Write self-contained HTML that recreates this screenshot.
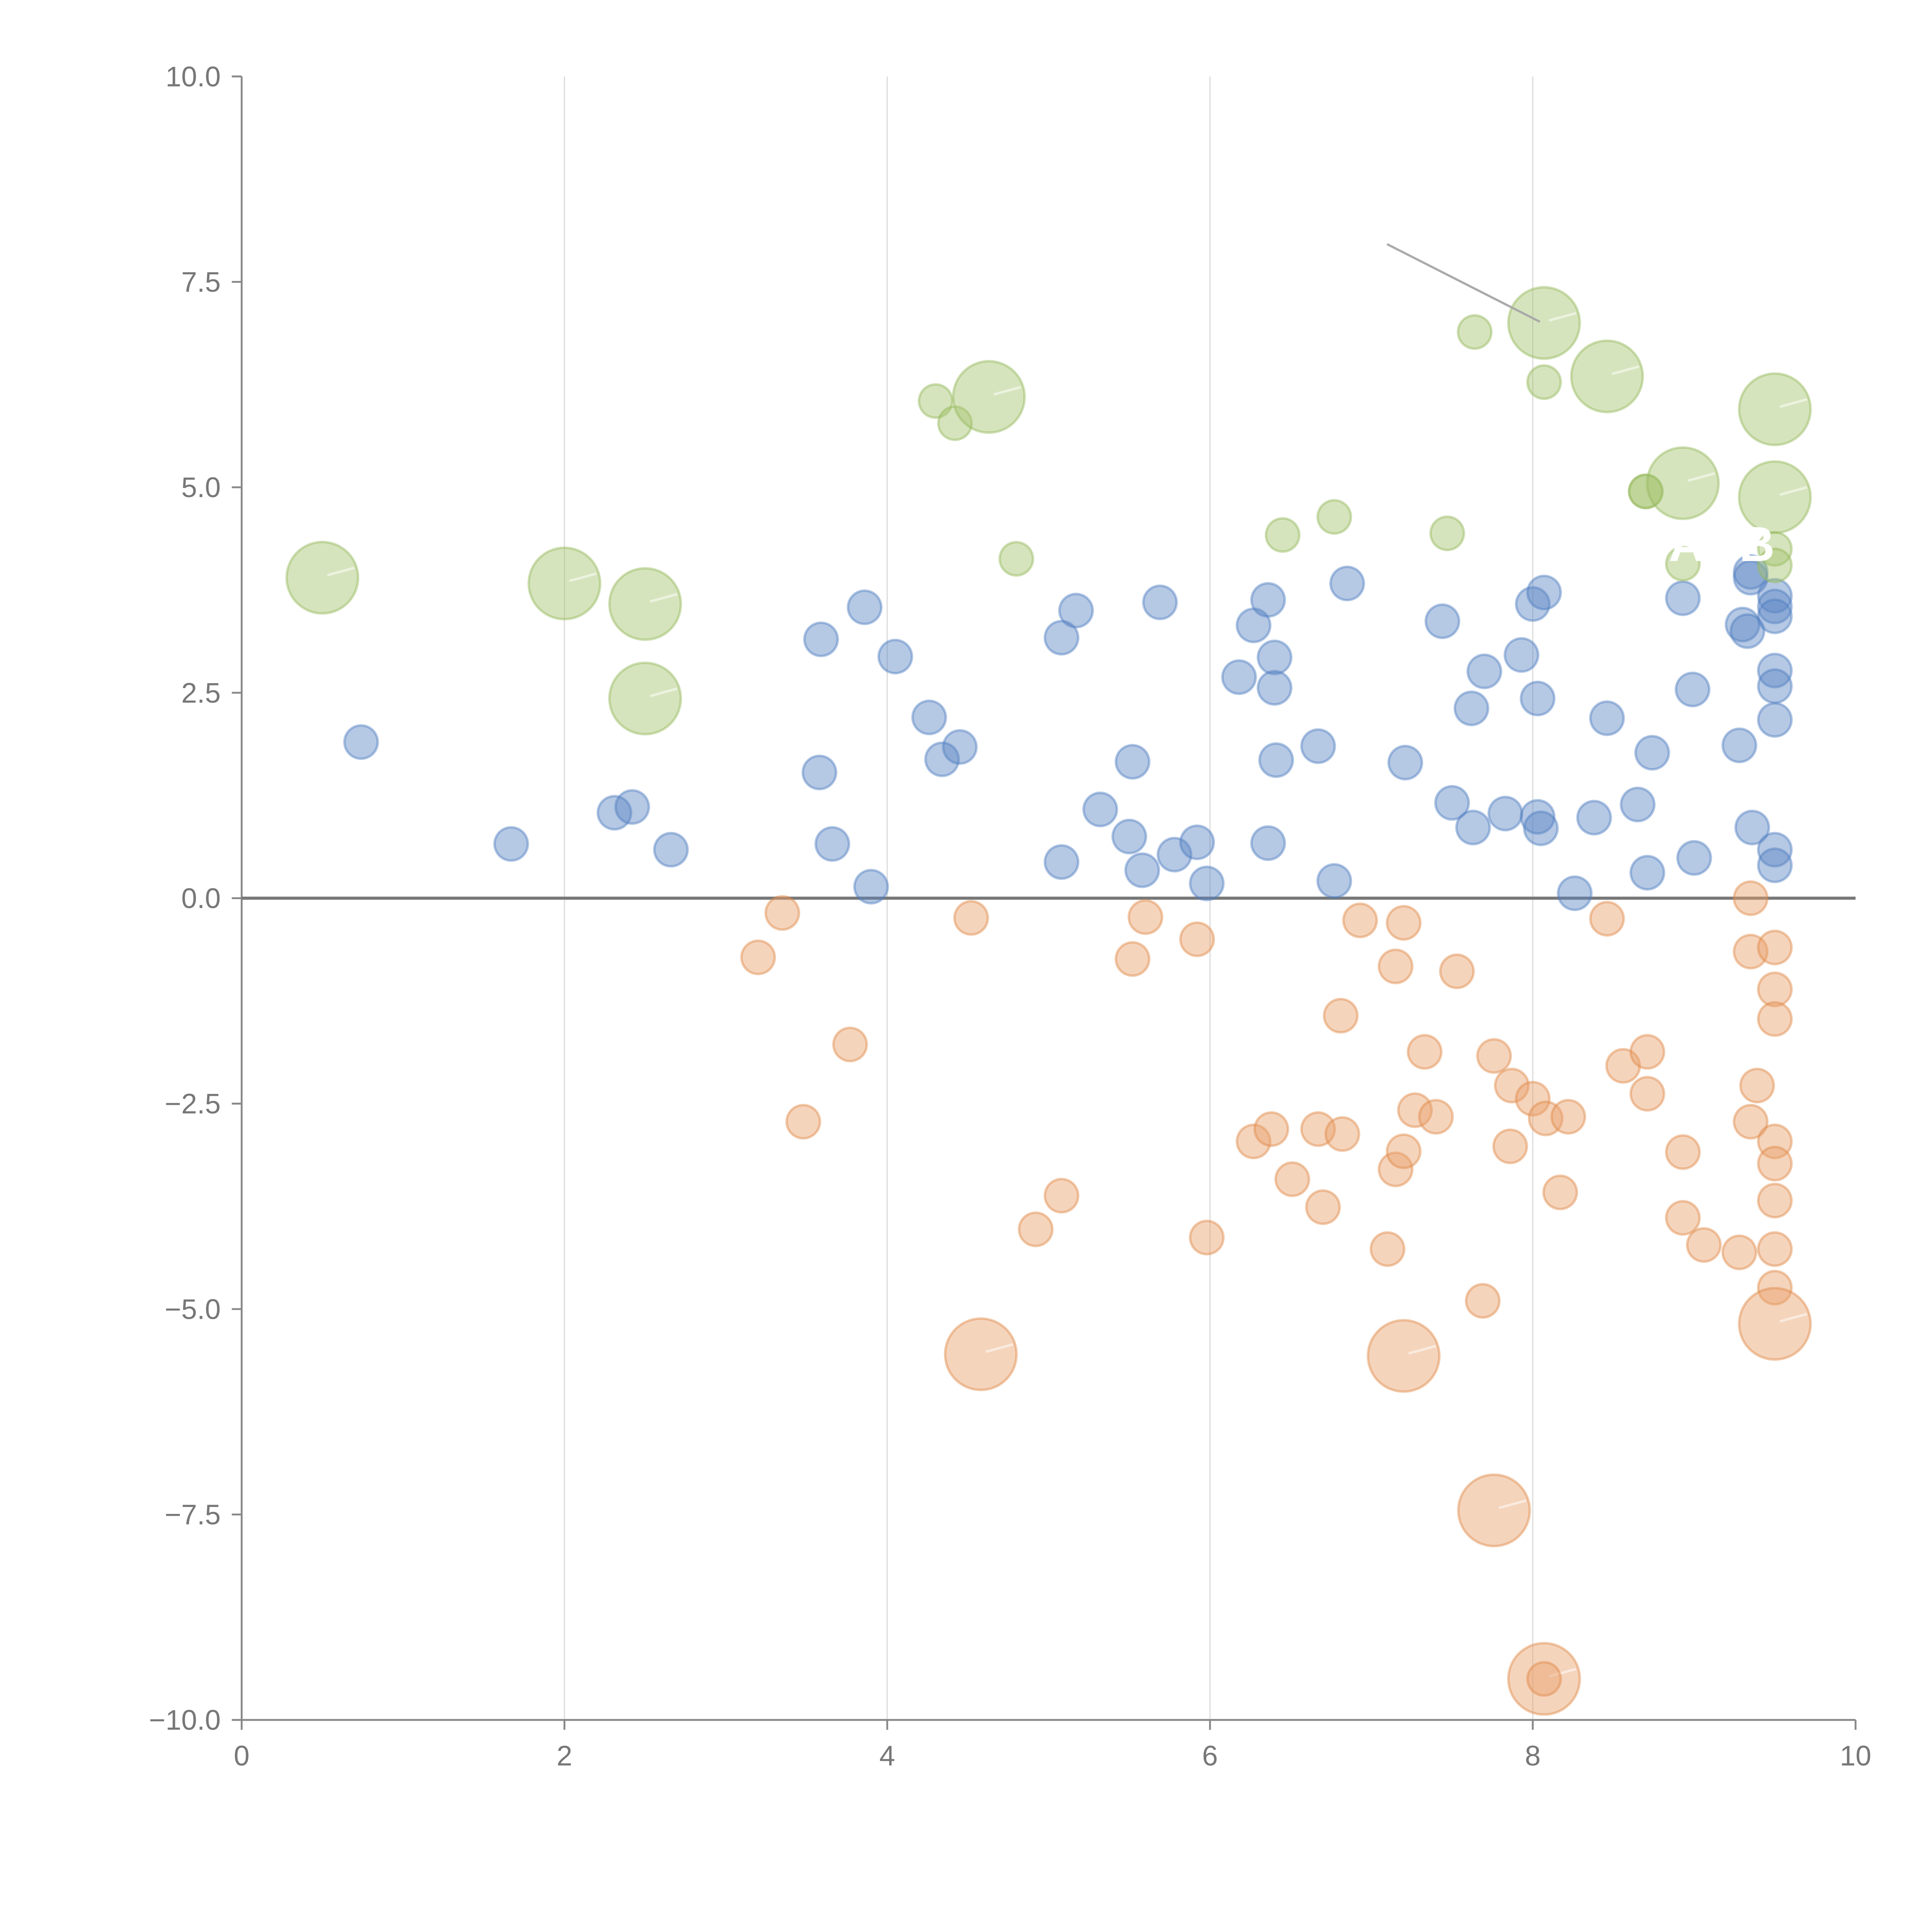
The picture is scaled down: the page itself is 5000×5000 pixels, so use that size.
<!DOCTYPE html>
<html><head><meta charset="utf-8"><style>
html,body{margin:0;padding:0;background:#fff;}
svg{display:block;}
text{font-family:"Liberation Sans",Arial,sans-serif;}
</style></head>
<body>
<svg id="chart" width="5000" height="5000" viewBox="0 0 1567 1567" xmlns="http://www.w3.org/2000/svg">
<g id="grid"></g>
<g id="axes"></g>
<g id="marks"></g>
<line x1="1125" y1="198" x2="1249" y2="261" stroke="#aaa" stroke-width="1.8"/>
<text x="1368" y="455" fill="#fff" font-size="40" font-weight="bold" text-anchor="middle">A</text>
<text x="1425" y="455" fill="#fff" font-size="40" font-weight="bold" text-anchor="middle">B</text>
</svg>
<script>
const xTicks=[0,2,4,6,8,10];
const yTicks=[10,7.5,5,2.5,0,-2.5,-5,-7.5,-10];
const yTickLabels=["10.0","7.5","5.0","2.5","0.0","\u22122.5","\u22125.0","\u22127.5","\u221210.0"];
const greenX=[0.5,2.0,2.5,2.5,4.3,4.42,4.63,4.8,6.45,6.77,7.47,7.64,8.07,8.07,8.46,8.7,8.7,8.93,9.5,9.5,9.5,9.5,8.93];
const greenY=[3.9,3.83,3.58,2.43,6.05,5.78,6.1,4.13,4.42,4.64,4.44,6.89,7.0,6.28,6.35,4.95,4.95,5.05,5.95,4.88,4.25,4.05,4.07];
const greenS=[4.6,4.6,4.6,4.6,1,1,4.6,1,1,1,1,1,4.6,1,4.6,1,1,4.6,4.6,4.6,1,1,1];
const blueX=[0.74,1.67,2.31,2.42,2.66,3.58,3.59,3.66,3.86,3.9,4.05,4.26,4.34,4.45,5.08,5.08,5.17,5.32,5.5,5.52,5.58,5.69,5.78,5.92,5.98,6.18,6.27,6.36,6.36,6.4,6.4,6.41,6.67,6.77,6.85,7.21,7.44,7.5,7.62,7.63,7.7,7.83,7.93,8.0,8.03,8.03,8.05,8.07,8.26,8.38,8.46,8.65,8.71,8.74,8.93,8.99,9.0,9.28,9.3,9.33,9.35,9.35,9.36,9.5,9.5,9.5,9.5,9.5,9.5,9.5,9.5];
const blueY=[1.9,0.66,1.04,1.11,0.59,1.53,3.15,0.66,3.54,0.14,2.94,2.2,1.69,1.84,3.17,0.44,3.5,1.08,0.75,1.66,0.34,3.6,0.53,0.68,0.18,2.69,3.32,3.63,0.67,2.93,2.56,1.68,1.85,0.21,3.83,1.65,3.37,1.16,2.31,0.86,2.76,1.03,2.96,3.58,0.99,2.43,0.85,3.72,0.06,0.98,2.19,1.14,0.31,1.77,3.65,2.54,0.49,1.86,3.33,3.25,3.9,3.97,0.86,3.68,3.55,3.43,2.77,2.58,2.17,0.59,0.4];
const orangeX=[3.2,3.35,3.48,3.77,4.52,4.58,4.92,5.08,5.52,5.6,5.92,5.98,6.27,6.38,6.51,6.67,6.7,6.81,6.82,6.93,7.1,7.15,7.15,7.2,7.2,7.2,7.27,7.33,7.4,7.53,7.69,7.76,7.76,7.86,7.87,8.0,8.07,8.07,8.08,8.17,8.22,8.46,8.56,8.71,8.71,8.93,8.93,9.06,9.28,9.35,9.35,9.35,9.39,9.5,9.5,9.5,9.5,9.5,9.5,9.5,9.5,9.5];
const orangeY=[-0.72,-0.18,-2.72,-1.78,-0.24,-5.55,-4.03,-3.62,-0.74,-0.23,-0.5,-4.13,-2.96,-2.81,-3.42,-2.81,-3.76,-1.43,-2.87,-0.27,-4.27,-0.83,-3.3,-3.08,-0.3,-5.57,-2.58,-1.87,-2.66,-0.89,-4.9,-1.92,-7.45,-3.02,-2.28,-2.44,-9.5,-9.5,-2.68,-3.58,-2.66,-0.25,-2.04,-1.87,-2.38,-3.09,-3.89,-4.22,-4.31,0.0,-0.65,-2.72,-2.28,-0.6,-1.11,-1.47,-2.96,-3.23,-3.68,-4.27,-4.74,-5.18];
const orangeS=[1,1,1,1,1,4.6,1,1,1,1,1,1,1,1,1,1,1,1,1,1,1,1,1,1,1,4.6,1,1,1,1,1,1,4.6,1,1,1,4.6,1,1,1,1,1,1,1,1,1,1,1,1,1,1,1,1,1,1,1,1,1,1,1,1,4.6];

const X0=196,X1=1505,Y0=1395,Y1=62;
function sx(v){return X0+(v-0)/(10-0)*(X1-X0);}
function sy(v){return Y0-(v+10)/20*(Y0-Y1);}
function rr(s){return 13.5*Math.sqrt(s);}
const NS="http://www.w3.org/2000/svg";
function mk(tag,attrs,parent){const e=document.createElementNS(NS,tag);for(const k in attrs)e.setAttribute(k,attrs[k]);parent.appendChild(e);return e;}
const grid=document.getElementById('grid'),axes=document.getElementById('axes'),marks=document.getElementById('marks');
xTicks.forEach(function(t){
  if(t>0&&t<10){const g=mk('line',{x1:sx(t),x2:sx(t),y1:Y1,y2:Y0,stroke:'#ddd','stroke-width':1},grid);
    
    }
  const tk=mk('line',{x1:sx(t),x2:sx(t),y1:Y0,y2:Y0+8,stroke:'#888','stroke-width':1.5},axes);
  
  
  const tx=mk('text',{x:sx(t),y:Y0+37,'font-size':23,fill:'#777','text-anchor':'middle'},axes);
  tx.textContent=String(t);
  
  
});
yTicks.forEach(function(t,i){
  const tk=mk('line',{x1:X0-8,x2:X0,y1:sy(t),y2:sy(t),stroke:'#888','stroke-width':1.5},axes);
  
  
  const tx=mk('text',{x:X0-17,y:sy(t)+8,'font-size':23,fill:'#777','text-anchor':'end'},axes);
  tx.textContent=yTickLabels[i];
  
  
});
const ya=mk('line',{x1:X0,x2:X0,y1:Y1,y2:Y0,stroke:'#888','stroke-width':1.5},axes);


const xa=mk('line',{x1:X0,x2:X1,y1:Y0,y2:Y0,stroke:'#888','stroke-width':1.5},axes);


const zl=mk('line',{x1:X0,x2:X1,y1:sy(0),y2:sy(0),stroke:'#777','stroke-width':2.5},axes);



function series(xs,ys,ss,fill,stroke,name){
  xs.forEach(function(x,i){
    const s=ss?ss[i]:1;
    const c=mk('circle',{cx:sx(x),cy:sy(ys[i]),r:rr(s),fill:fill,'fill-opacity':0.45,stroke:stroke,'stroke-opacity':0.45,'stroke-width':2},marks);
    
    
    if(s>2){
      const l=mk('line',{x1:sx(x)+4,y1:sy(ys[i])-2,x2:sx(x)+26,y2:sy(ys[i])-8,stroke:'#fff','stroke-opacity':0.5,'stroke-width':2},marks);
      
      
    }
  });
}
series(orangeX,orangeY,orangeS,'#e8a06a','#e08a48','bubble-orange');
series(blueX,blueY,null,'#5a86c4','#4f7fc0','bubble-blue');
series(greenX,greenY,greenS,'#a4c46c','#94b85a','bubble-green');
</script>
</body></html>
